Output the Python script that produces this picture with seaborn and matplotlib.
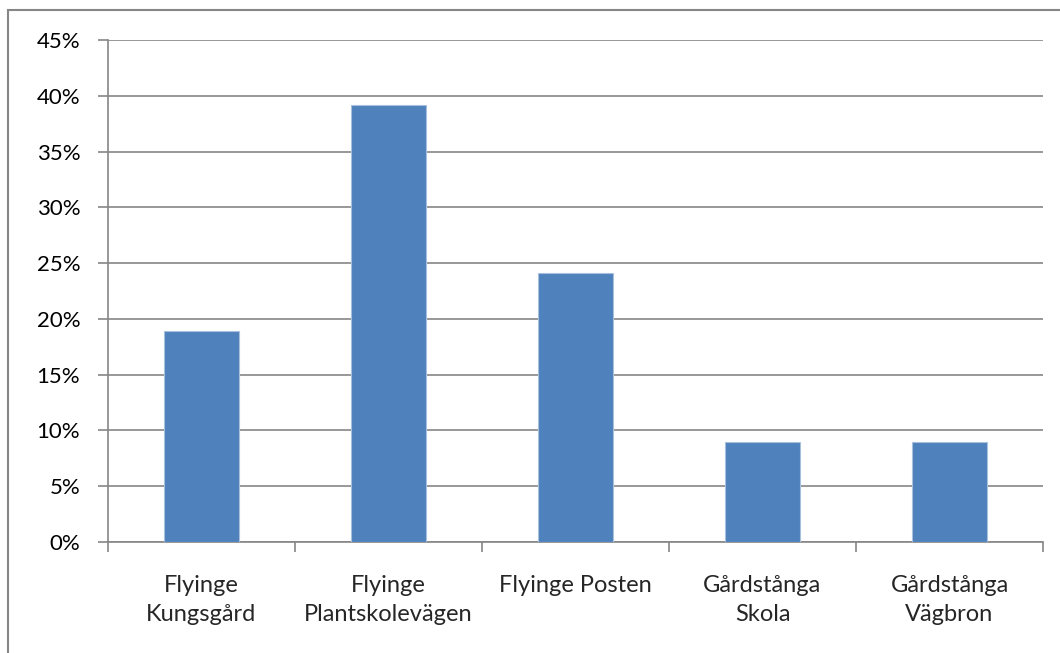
import matplotlib
matplotlib.use('Agg')
import matplotlib.pyplot as plt
import seaborn as sns
import pandas as pd
from matplotlib.patches import Rectangle
from matplotlib.ticker import PercentFormatter

stations = ['Flyinge\nKungsgård', 'Flyinge\nPlantskolevägen', 'Flyinge Posten',
            'Gårdstånga\nSkola', 'Gårdstånga\nVägbron']
shares = [0.189, 0.392, 0.241, 0.090, 0.090]

df = pd.DataFrame({'station': stations, 'share': shares})

sns.set_theme(style='white')
plt.rcParams['font.family'] = ['Lato', 'DejaVu Sans']

fig = plt.figure(figsize=(10.6, 6.53), dpi=100)
ax = fig.add_axes([108/1060, 1 - 542/653, (1043-108)/1060, (542-40)/653])

sns.barplot(data=df, x='station', y='share', color='#4F81BD', width=0.4,
            saturation=1, ax=ax, edgecolor='#A7C0DE', linewidth=0.8, zorder=3)

ax.set_ylim(0, 0.45)
ax.set_xlim(-0.5, 4.5)
ax.set_yticks([i * 0.05 for i in range(10)])
ax.yaxis.set_major_formatter(PercentFormatter(1.0, decimals=0))
ax.yaxis.grid(True, color='#868686', linewidth=1.2, zorder=0)
ax.set_axisbelow(True)

# category boundary ticks on x
ax.set_xticks([i - 0.5 for i in range(6)], minor=False)
ax.set_xticklabels([])
ax.set_xticks(range(5), minor=True)
ax.set_xticklabels(stations, minor=True, fontsize=17, linespacing=1.45)
ax.tick_params(axis='x', which='major', bottom=True, length=7, color='#868686', width=1.2, direction='out')
ax.tick_params(axis='x', which='minor', bottom=True, length=0, pad=24)
ax.tick_params(axis='y', left=True, length=7, color='#868686', width=1.2, labelsize=16, pad=13, direction='out')
ax.tick_params(axis='both', labelcolor='#000000')

for s in ['top', 'right']:
    ax.spines[s].set_visible(False)
for s in ['left', 'bottom']:
    ax.spines[s].set_color('#868686')
    ax.spines[s].set_linewidth(1.2)

ax.set_xlabel('')
ax.set_ylabel('')

fig.patches.append(Rectangle((8/1060, -0.1), 1.2, 1 - 10/653 + 0.1, transform=fig.transFigure,
                             fill=False, edgecolor='#868686', linewidth=1.5))

fig.savefig('out.png', dpi=100)
